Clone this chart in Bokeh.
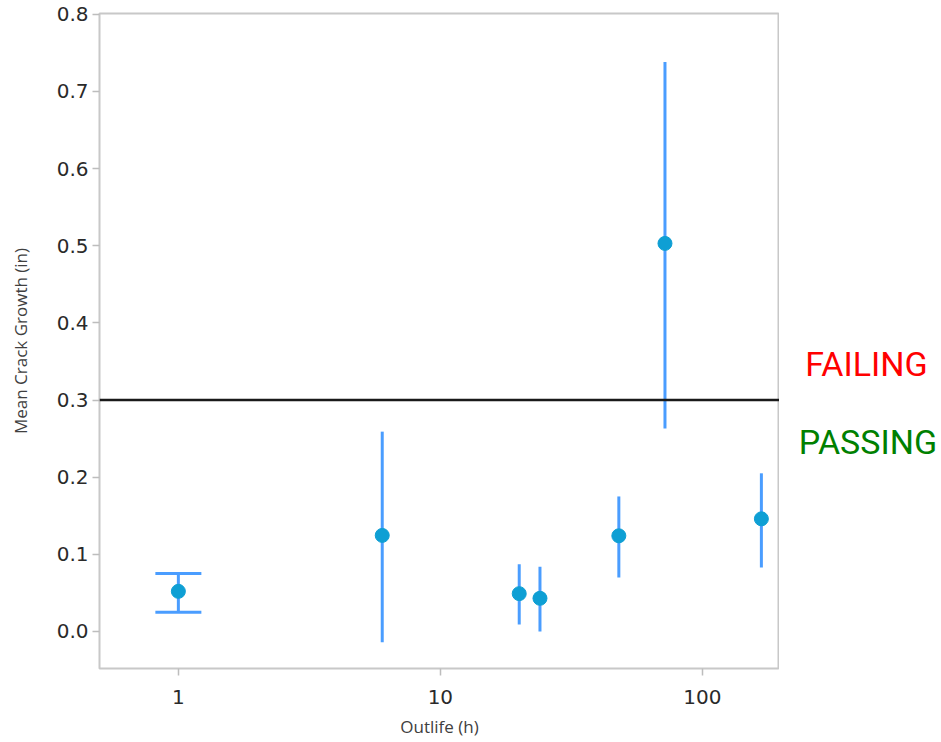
from bokeh.plotting import figure
from bokeh.layouts import row
from bokeh.models import ColumnDataSource, Whisker, TeeHead, Span, FixedTicker, Range1d
from bokeh.core.properties import value
from bokeh.embed import file_html
from bokeh.resources import INLINE

# Data
outlife = [1, 6, 20, 24, 48, 72, 168]
mean_growth = [0.052, 0.1245, 0.049, 0.043, 0.124, 0.503, 0.146]
upper = [0.075, 0.259, 0.087, 0.084, 0.175, 0.738, 0.205]
lower = [0.025, -0.014, 0.009, 0.000, 0.070, 0.263, 0.083]
capped = [True, False, False, False, False, False, False]
threshold = 0.3
zone_labels = ["FAILING", "PASSING"]
zone_y = [0.3462, 0.2451]
zone_colors = ["#ff0000", "#008000"]
y_ticks = [0.0, 0.1, 0.2, 0.3, 0.4, 0.5, 0.6, 0.7, 0.8]
x_ticks = [1, 10, 100]

p = figure(width=779, height=742, x_axis_type="log",
           x_range=Range1d(0.5, 197), y_range=Range1d(-0.048, 0.801),
           output_backend="svg", toolbar_location=None,
           min_border_left=99, min_border_top=13, min_border_right=0,
           min_border_bottom=74)
p.grid.visible = False
p.outline_line_color = "#c8c8c8"
p.outline_line_width = 2
p.background_fill_color = "white"
p.border_fill_color = "white"

src_cap = ColumnDataSource(dict(
    x=[x for x, c in zip(outlife, capped) if c],
    y=[y for y, c in zip(mean_growth, capped) if c],
    up=[u for u, c in zip(upper, capped) if c],
    lo=[l for l, c in zip(lower, capped) if c]))
src_nocap = ColumnDataSource(dict(
    x=[x for x, c in zip(outlife, capped) if not c],
    y=[y for y, c in zip(mean_growth, capped) if not c],
    up=[u for u, c in zip(upper, capped) if not c],
    lo=[l for l, c in zip(lower, capped) if not c]))
src_all = ColumnDataSource(dict(x=outlife, y=mean_growth))

bar_color = "#4a9dff"
w1 = Whisker(base="x", upper="up", lower="lo", source=src_cap, dimension="height",
             line_color=bar_color, line_width=3,
             upper_head=TeeHead(size=46, line_color=bar_color, line_width=3),
             lower_head=TeeHead(size=46, line_color=bar_color, line_width=3))
w2 = Whisker(base="x", upper="up", lower="lo", source=src_nocap, dimension="height",
             line_color=bar_color, line_width=3, upper_head=None, lower_head=None)
p.add_layout(w1)
p.add_layout(w2)

p.add_layout(Span(location=threshold, dimension="width", line_color="#1a1a1a",
                  line_width=2.5))

p.scatter("x", "y", source=src_all, size=14, fill_color="#0e9fd4",
          line_color="#0e9fd4")

for ax in (p.xaxis[0], p.yaxis[0]):
    ax.axis_line_color = None
    ax.major_tick_line_color = "#bdbdbd"
    ax.major_tick_line_width = 1.5
    ax.major_tick_out = 7
    ax.major_tick_in = 0
    ax.minor_tick_line_color = None
    ax.major_label_text_font = "DejaVu Sans"
    ax.major_label_text_font_size = "20px"
    ax.major_label_text_color = "#2a2a2a"
    ax.axis_label_text_font = "Open Sans"
    ax.axis_label_text_font_size = "17px"
    ax.axis_label_text_font_style = "normal"
    ax.axis_label_text_color = "#404040"

p.xaxis.ticker = FixedTicker(ticks=x_ticks)
p.xaxis.major_label_overrides = {1: "1", 10: "10", 100: "100"}
p.yaxis.ticker = FixedTicker(ticks=y_ticks)
p.yaxis.major_label_overrides = {t: f"{t:.1f}" for t in y_ticks}
p.xaxis.axis_label = "Outlife (h)"
p.yaxis.axis_label = "Mean Crack Growth (in)"
p.xaxis.major_label_standoff = 14
p.yaxis.major_label_standoff = 4
p.xaxis.axis_label_standoff = 8
p.yaxis.axis_label_standoff = 22

# Side panel with zone labels, sharing the y scale
p2 = figure(width=162, height=742, x_range=Range1d(0, 1), y_range=p.y_range,
            output_backend="svg", toolbar_location=None,
            min_border_left=0, min_border_right=0, min_border_top=13,
            min_border_bottom=74)
p2.axis.visible = False
p2.grid.visible = False
p2.outline_line_color = None
src_z = ColumnDataSource(dict(x=[0.537, 0.546], y=zone_y, t=zone_labels, c=zone_colors))
p2.text(x="x", y="y", text="t", text_color="c", source=src_z,
        text_font=value("Roboto"), text_font_size="34px",
        text_align="center", text_baseline="alphabetic")

layout = row(p, p2, spacing=0)
open("out.html", "w").write(file_html(layout, INLINE))
